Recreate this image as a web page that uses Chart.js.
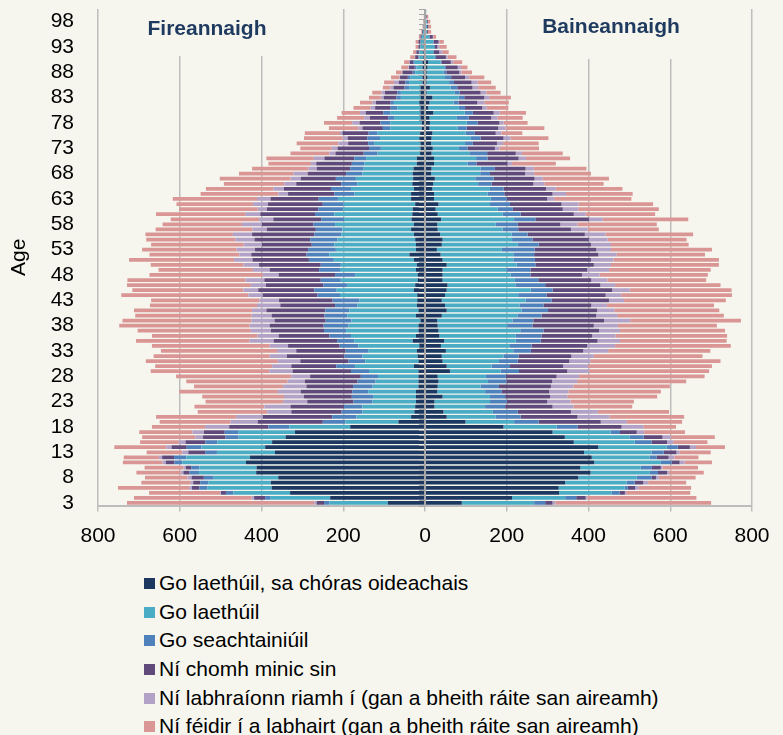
<!DOCTYPE html>
<html>
<head>
<meta charset="utf-8">
<script src="https://cdn.jsdelivr.net/npm/chart.js@4.4.1/dist/chart.umd.min.js"></script>
<style>
  html, body { margin: 0; padding: 0; background: #f6f6ef; }
  #wrap { position: relative; width: 783px; height: 735px; overflow: hidden; font-family: 'Liberation Sans', Arial, sans-serif; }
  #chart { position: absolute; left: 0; top: 0; }
  #legend { position: absolute; left: 144px; top: 569px; }
  .item { position: relative; height: 28.7px; line-height: 28.7px; font-size: 21px; color: #000; padding-left: 15px; white-space: nowrap; }
  .item span { position: absolute; left: 0; top: 9px; width: 11px; height: 11px; }
</style>
</head>
<body>
<div id="wrap">
  <canvas id="chart" width="783" height="560"></canvas>
  <div id="legend"></div>
</div>
<script>
// ages 3 .. 100 (one row per single year of age)
const ages = [3,4,5,6,7,8,9,10,11,12,13,14,15,16,17,18,19,20,21,22,23,24,25,26,27,28,29,30,31,32,
  33,34,35,36,37,38,39,40,41,42,43,44,45,46,47,48,49,50,51,52,53,54,55,56,57,58,59,60,61,62,
  63,64,65,66,67,68,69,70,71,72,73,74,75,76,77,78,79,80,81,82,83,84,85,86,87,88,89,90,91,92,
  93,94,95,96,97,98,99,100];

const seriesNames = [
  'Go laethúil, sa chóras oideachais',
  'Go laethúil',
  'Go seachtainiúil',
  'Ní chomh minic sin',
  'Ní labhraíonn riamh í (gan a bheith ráite san aireamh)',
  'Ní féidir í a labhairt (gan a bheith ráite san aireamh)'
];
const sideTitles = ['Fireannaigh', 'Baineannaigh'];
const xTicks = [-800, -600, -400, -200, 0, 200, 400, 600, 800];

// Fireannaigh (left side)
const maleNavy = [91,232,330,375,377,359,413,412,438,428, 367,391,374,341,318,183,65,34,26,24,
  22,22,22,16,16,16,16,27,16,18, 20,14,30,22,16,16,11,22,16,20, 19,19,27,24,18,18,22,20,27,38,
  22,22,24,27,34,27,33,31,30,24, 34,34,27,31,29,30,28,20,20,12, 11,11,14,12,8,8,11,11,11,14,
  11,11,11,6,6,4,6,6,4,4, 3,3,2,2,1,1,1,0];
const maleTeal = [143,147,139,157,153,158,140,140,156,156, 142,156,134,115,138,149,130,134,127,129,
  107,105,117,112,105,99,121,144,130,135, 119,149,143,159,177,171,169,168,169,145,
  142,189,189,167,188,153,186,186,196,196, 196,200,190,178,168,193,165,191,170,175,
  179,139,154,134,140,123,122,128,124,104, 97,112,96,104,77,77,63,73,57,62,
  48,48,28,33,29,20,15,19,10,10, 8,7,5,3,2,1,1,1];
const maleBlue = [13,12,18,20,20,24,23,20,19,30, 29,36,29,32,34,51,55,59,51,45,
  46,52,39,48,44,42,44,46,41,44, 55,46,42,53,54,61,63,56,59,55, 65,55,55,58,49,49,51,49,61,56,
  68,55,67,66,65,53,56,47,61,51, 47,49,49,40,49,40,33,31,29,34, 29,16,31,22,18,24,16,18,16,8,
  11,9,11,9,7,6,4,4,2,1, 1,1,1,0,0,0,0,0];
const malePurple = [18,27,12,18,17,30,15,13,21,29, 41,37,49,55,51,96,159,170,123,131,
  113,117,126,114,129,124,143,110,118,141, 121,126,155,124,130,132,125,129,144,134,
  131,134,137,140,138,138,121,151,138,135, 130,122,136,152,120,126,117,134,126,134,
  118,113,115,110,86,94,82,87,73,69, 77,49,48,64,50,51,45,43,38,36,
  31,30,27,16,19,25,14,8,8,6, 4,5,3,2,1,1,0,0];
const maleLavender = [6,6,2,7,6,10,7,6,8,8, 15,13,16,19,28,59,67,65,59,64,
  59,49,56,57,42,46,57,47,55,42, 47,45,59,52,49,49,57,49,35,57, 48,35,36,37,46,39,41,38,45,29,
  45,45,47,47,35,49,35,37,22,37, 33,24,26,29,25,35,20,13,26,15, 14,24,12,6,10,18,14,14,12,9,
  7,8,8,12,2,2,2,2,1,1, 1,1,0,0,0,0,0,0];
const malePink = [458,288,174,174,121,104,108,95,97,86, 87,127,95,130,130,130,173,196,170,171,
  190,200,241,218,248,282,290,286,323,284, 284,288,278,258,277,319,315,285,289,262,
  265,311,272,303,289,277,231,227,257,220, 231,226,218,214,237,194,216,218,192,187,
  206,190,165,148,173,133,138,104,116,95, 77,102,95,86,72,69,66,45,41,30,
  29,23,18,24,20,14,17,12,11,7, 6,6,4,2,2,1,1,1];

// Baineannaigh (right side)
const femaleNavy = [90,213,328,327,343,375,405,380,414,408, 389,424,364,342,312,192,99,53,45,23,
  23,43,30,31,33,31,61,53,43,41, 51,39,47,35,33,31,30,41,53,49, 41,49,53,55,43,43,43,53,43,38,
  29,41,43,37,31,30,39,31,26,33, 22,22,18,20,24,15,16,22,22,16, 19,15,16,18,11,12,11,20,8,11,
  18,4,12,4,6,4,6,8,3,2, 2,2,2,1,1,1,1,1];
const femaleTeal = [177,130,128,161,150,143,145,148,163,142, 165,167,149,159,142,130,119,120,121,124,
  136,116,117,105,121,118,124,110,138,151, 165,169,175,187,200,170,184,185,183,182,
  205,179,205,166,177,166,156,171,173,178, 159,186,170,175,159,143,179,159,152,126,
  139,131,141,110,99,120,120,82,103,94, 64,83,95,81,69,90,67,77,75,59,
  64,69,51,55,43,41,41,30,20,18, 20,18,8,3,4,3,1,2];
const femaleBlue = [27,27,20,8,20,36,20,27,26,17, 30,27,41,34,23,51,60,61,61,49,
  41,37,41,45,45,49,45,45,46,37, 43,53,61,63,57,62,51,59,65,59, 64,69,54,73,57,49,59,46,53,51,
  80,51,50,39,38,54,52,44,37,49, 39,41,33,33,45,24,35,22,28,42, 21,19,25,23,22,27,29,20,15,12,
  14,12,16,12,15,7,4,2,4,2, 2,1,1,0,0,1,0,0];
const femalePurple = [18,23,13,18,21,11,22,22,20,29, 31,30,38,46,41,108,152,139,130,116,
  99,110,116,127,112,124,118,130,126,129, 128,136,139,124,136,150,173,134,120,117,
  140,145,146,135,130,126,139,143,137,157, 151,128,138,140,129,104,131,130,122,126,
  99,118,104,102,100,86,75,76,76,70, 67,59,56,51,77,53,55,51,42,46,
  49,51,37,43,34,32,29,23,24,13, 6,12,8,3,3,2,2,0];
const femaleLavender = [7,4,3,9,12,7,5,4,12,14, 7,15,15,20,18,53,64,78,66,51,
  57,42,47,55,61,55,53,61,51,55, 61,68,55,57,51,59,64,51,42,38, 37,38,43,36,39,43,53,42,55,45,
  36,49,46,51,41,42,34,29,38,42, 17,33,24,27,20,22,20,11,18,15, 11,15,17,14,18,10,15,15,11,17,
  12,14,14,15,10,5,8,6,4,7, 5,2,1,0,0,0,0,0];
const femalePink = [381,267,157,128,93,90,85,87,67,59, 77,71,84,108,100,80,135,183,174,144,
  155,220,226,236,267,307,294,303,319,266, 250,283,261,273,257,242,271,261,257,262,
  249,271,249,258,242,265,249,264,258,216, 247,190,193,214,174,194,209,170,197,182,
  189,163,163,145,162,139,129,107,108,100, 97,87,93,51,95,59,62,64,53,60,
  53,35,43,33,37,26,16,22,22,16, 18,11,7,8,7,6,4,0];

const colors = ['#1d3860', '#4bacc6', '#4f81bd', '#604a7b', '#b3a2c7', '#d99694'];
const bg = '#f6f6ef';
const fontFamily = "'Liberation Sans', Arial, sans-serif";

const male = [maleNavy, maleTeal, maleBlue, malePurple, maleLavender, malePink];
const female = [femaleNavy, femaleTeal, femaleBlue, femalePurple, femaleLavender, femalePink];

const datasets = [];
seriesNames.forEach((name, i) => {
  datasets.push({ label: name, data: male[i].map(v => -v), backgroundColor: colors[i], stack: 'p' });
  datasets.push({ label: name, data: female[i], backgroundColor: colors[i], stack: 'p' });
});

// titles over the plot and the vertical axis at zero with its tick marks
const overlay = {
  id: 'overlay',
  beforeDatasetsDraw(chart) {
    const ctx = chart.ctx;
    ctx.save();
    ctx.fillStyle = bg;
    ctx.fillRect(104, 0, 233, 56);
    ctx.fillRect(514, 0, 232, 59);
    ctx.font = 'bold 21px ' + fontFamily;
    ctx.fillStyle = '#1f3a5f';
    ctx.textAlign = 'center';
    ctx.textBaseline = 'middle';
    ctx.fillText(sideTitles[0], 207, 29);
    ctx.fillText(sideTitles[1], 611, 27);
    ctx.restore();
  },
  afterDatasetsDraw(chart) {
    const { ctx, chartArea, scales } = chart;
    const x0 = scales.x.getPixelForValue(0);
    const n = chart.data.labels.length;
    const step = (chartArea.bottom - chartArea.top) / n;
    ctx.save();
    ctx.strokeStyle = '#a6a6a6';
    ctx.lineWidth = 2;
    ctx.beginPath();
    ctx.moveTo(x0, chartArea.top);
    ctx.lineTo(x0, chartArea.bottom);
    ctx.stroke();
    ctx.lineWidth = 1;
    ctx.beginPath();
    for (let i = 0; i <= n; i++) {
      const y = Math.round(chartArea.top + i * step) + 0.5;
      ctx.moveTo(x0 - 6, y);
      ctx.lineTo(x0, y);
    }
    ctx.stroke();
    ctx.restore();
  }
};

Chart.defaults.font.family = fontFamily;
Chart.defaults.font.size = 21;
Chart.defaults.color = '#000';

const chart = new Chart(document.getElementById('chart'), {
  type: 'bar',
  data: { labels: ages, datasets: datasets },
  options: {
    indexAxis: 'y',
    responsive: false,
    animation: false,
    layout: { padding: { left: 0, right: 31, top: 9, bottom: 0 } },
    datasets: { bar: { barPercentage: 0.74, categoryPercentage: 1 } },
    plugins: { legend: { display: false }, tooltip: { enabled: false } },
    scales: {
      x: {
        type: 'linear',
        min: -800,
        max: 800,
        afterBuildTicks: s => { s.ticks = xTicks.map(v => ({ value: v })); },
        afterFit: s => { s.height = 54.5; },
        ticks: { padding: 12, callback: v => Math.abs(v) },
        grid: { color: '#bdbdbd', lineWidth: 1.5, tickLength: 6 },
        border: { color: '#bdbdbd', width: 2 }
      },
      y: {
        type: 'category',
        stacked: true,
        reverse: true,
        afterFit: s => { s.width = 98; s.paddingTop = 0; s.paddingBottom = 0; },
        grid: { display: false, drawTicks: false },
        border: { display: false },
        ticks: {
          autoSkip: false,
          padding: 24,
          callback: (v, i) => ((ages[i] - 3) % 5 === 0 ? String(ages[i]) : '')
        },
        title: { display: true, text: 'Age', padding: { top: 7, bottom: 0 } }
      }
    }
  },
  plugins: [overlay]
});

// legend in one column under the chart
const legendEl = document.getElementById('legend');
seriesNames.forEach((name, i) => {
  const row = document.createElement('div');
  row.className = 'item';
  const sw = document.createElement('span');
  sw.style.background = chart.data.datasets[i * 2].backgroundColor;
  row.appendChild(sw);
  row.appendChild(document.createTextNode(name));
  legendEl.appendChild(row);
});
</script>
</body>
</html>
